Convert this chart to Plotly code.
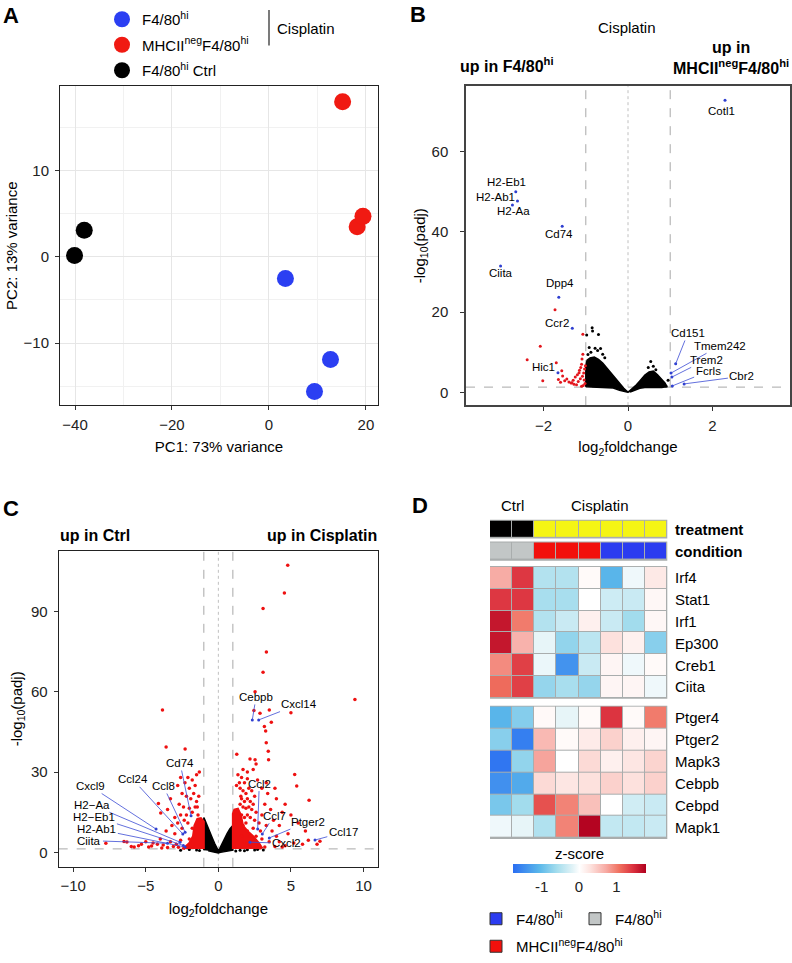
import math
import plotly.graph_objects as go

W, H = 792, 963
def px(x): return x / W
def py(y): return 1 - y / H

FONT = "Liberation Sans, Arial, Helvetica, sans-serif"

# ---------------- Panel A: PCA ----------------
pca_names = ["F4/80<sup>hi</sup>", "MHCII<sup>neg</sup>F4/80<sup>hi</sup>", "F4/80<sup>hi</sup> Ctrl"]
pca_colors = ["#2b3ff2", "#f01a12", "#000000"]
pc1_f480 = [3.4, 12.7, 9.4]
pc2_f480 = [-2.5, -11.9, -15.6]
pc1_mhc = [15.2, 18.2, 19.4]
pc2_mhc = [18.0, 3.5, 4.7]
pc1_ctrl = [-40.1, -38.1]
pc2_ctrl = [0.15, 3.1]

# ---------------- Panel B: volcano (Cisplatin MHCIIneg vs F4/80hi) ----------------
b_red_lfc = [-1.73, -1.07, -2.08, -2.39, -1.70, -2.02, -1.57, -1.07, -1.09, -1.10, -1.12, -1.15,
             -1.05, -1.20, -1.08, -1.25, -1.13, -1.30, -1.40, -1.50, -1.35, -1.45, -1.60, -1.18,
             -1.02, -1.06, -1.22, -1.55, -1.28, -1.65, -1.03, -1.16, -1.04, -1.10, -1.33, -1.01]
b_red_padj = [20.6, 14.5, 11.5, 8.1, 7.4, 2.9, 5.4, 9.5, 8.3, 7.0, 6.2, 5.5,
              4.8, 4.4, 4.0, 3.8, 3.4, 3.0, 2.6, 2.9, 2.3, 3.3, 2.5, 2.7,
              2.2, 1.7, 1.9, 4.1, 2.0, 3.2, 5.8, 4.9, 3.1, 1.5, 2.4, 6.6]
b_black_lfc = [-0.98, -0.85, -0.84, -0.70, -0.92, -0.78, -0.65, -0.88, -0.72, -0.60, -0.95, -0.55,
               0.54, 0.60, 0.95, 0.85, 0.75, 0.66, 0.48, 0.90]
b_black_padj = [14.3, 16.1, 15.3, 14.4, 11.2, 11.0, 10.9, 10.0, 10.4, 9.5, 9.4, 8.6,
                7.7, 6.5, 3.0, 2.0, 2.5, 5.6, 6.2, 1.6]
# outline of the dense non-significant cloud (left and right arms)
b_cloud_left_lfc = [-1.0, -1.0, -0.97, -0.9, -0.8, -0.7, -0.6, -0.5, -0.4, -0.3, -0.2, -0.1, 0.0,
                    -0.1, -0.2, -0.35, -0.6, -0.8, -1.0]
b_cloud_left_padj = [1.4, 6.5, 8.0, 8.6, 8.8, 8.2, 7.3, 6.0, 4.7, 3.4, 2.2, 1.0, 0.0,
                     0.2, 0.5, 1.1, 1.2, 1.3, 1.4]
b_cloud_right_lfc = [0.0, 0.1, 0.2, 0.3, 0.4, 0.5, 0.6, 0.7, 0.8, 0.88, 0.92, 0.8, 0.6, 0.4, 0.28, 0.15, 0.05]
b_cloud_right_padj = [0.0, 0.9, 1.9, 3.1, 4.3, 5.1, 5.3, 4.4, 3.3, 2.3, 1.4, 1.2, 1.2, 1.2, 1.0, 0.4, 0.05]
b_genes = ["Cotl1", "H2-Eb1", "H2-Ab1", "H2-Aa", "Cd74", "Ciita", "Dpp4", "Ccr2", "Hic1",
           "Cd151", "Tmem242", "Trem2", "Fcrls", "Cbr2"]
b_gene_lfc = [2.30, -2.66, -2.74, -2.62, -1.56, -3.02, -1.64, -1.32, -1.66,
              1.13, 1.02, 1.04, 1.05, 1.33]
b_gene_padj = [72.8, 50.0, 46.7, 47.7, 41.4, 31.5, 23.7, 16.0, 4.9,
               7.1, 4.8, 3.8, 1.6, 2.1]
# label text anchor positions (layout)
b_text_lfc = [2.22, -2.89, -3.15, -2.71, -1.64, -3.01, -1.61, -1.69, -2.01,
              1.42, 2.18, 1.85, 1.90, 2.70]
b_text_padj = [70.2, 52.3, 48.6, 45.3, 39.5, 29.7, 27.2, 17.3, 6.2,
               14.8, 11.6, 8.1, 5.2, 4.0]
b_arrow = [False] * 9 + [True] * 5

# ---------------- Panel C: volcano (Cisplatin vs Ctrl) ----------------
c_red_lfc = [4.78, 4.55, 3.08, 3.31, 3.08, 9.41, 2.53, 2.45, 2.87, 3.51, 5.00, 3.65, 3.17, 3.26,
             3.30, 3.44, 1.27, 2.18, 2.53, 3.46, 5.26, 5.40, 6.25,
             1.6, 1.8, 2.0, 1.5, 1.7, 1.9, 2.1, 2.3, 2.5, 1.6, 1.8, 2.0, 2.2, 2.4, 1.5, 1.7, 1.9,
             2.1, 2.3, 2.6, 1.6, 1.8, 2.0, 2.2, 2.5, 2.8, 3.0, 3.2, 3.4, 3.6, 3.8, 4.0, 4.2, 4.4,
             3.0, 2.7, 3.3, 3.9, 4.6, 5.0, 5.5, 6.0, 4.8, 4.0, 3.7, 3.3, 2.9, 2.4, 2.0, 2.2, 1.7,
             1.9, 2.6, 3.0, 3.5, 4.2, 5.2, 6.2, 7.0, 5.8, 4.6, 3.9, 2.8, 2.2, 1.8, 1.6, 2.4, 2.0,
             3.2, 2.4, 2.0, 2.6, 1.7, 1.35, 1.45, 1.55, 1.25, 6.8, 4.4, 2.9, 1.9,
             -3.85, -3.60, -2.29, -1.31, -1.5, -2.1, -2.6, -1.8, -2.3, -1.6, -2.0, -2.5, -1.7,
             -2.2, -1.9, -1.5, -2.7, -2.4, -2.0, -1.8, -2.6, -2.2, -3.0, -3.5, -3.97, -4.13,
             -3.2, -2.8, -2.5, -3.0, -3.6, -4.0, -4.5, -5.0, -5.5, -6.3, -6.5, -7.75, -6.0,
             -4.8, -3.8, -3.3, -2.9, -2.6, -3.5, -2.0, -1.8, -2.1, -3.1, -4.2, -5.3, -1.6,
             -2.8, -3.3, -1.4, -1.35, -1.45, -2.35, -5.8, -4.6, -3.9, -2.75]
c_red_padj = [107.3, 96.9, 91.1, 74.9, 67.3, 57.1, 60.0, 53.0, 52.0, 53.2, 52.2, 48.6, 47.0, 45.4,
              41.0, 37.8, 36.7, 34.9, 34.6, 34.6, 29.1, 24.8, 19.5,
              28.0, 26.0, 27.5, 24.0, 23.0, 22.0, 24.0, 23.0, 21.0, 20.0, 19.0, 20.0, 19.0, 18.0,
              18.0, 17.0, 16.5,
              17.0, 16.0, 15.0, 14.0, 13.0, 14.0, 13.0, 12.0, 11.0, 14.0, 18.0, 22.0, 16.0, 12.0,
              20.0, 10.0, 15.0,
              24.0, 27.0, 26.0, 24.0, 18.0, 14.0, 11.0, 8.0, 7.0, 6.0, 8.0, 10.0, 8.0, 9.0, 8.0,
              6.0, 10.0,
              11.0, 6.0, 5.0, 4.0, 4.0, 3.5, 4.5, 4.2, 3.0, 2.5, 2.2, 2.5, 3.0, 4.0, 6.0, 4.0, 2.0,
              2.0, 31.0, 30.0, 33.0, 31.0, 29.0, 26.0, 21.0, 25.0, 3.0, 2.0, 1.8, 2.6,
              53.2, 39.4, 38.6, 30.0, 29.0, 28.0, 28.0, 27.0, 26.0, 25.0, 24.0, 22.0, 22.0,
              21.0, 20.0, 19.0, 18.0, 17.0, 16.5, 15.0, 14.0, 14.0, 13.0, 16.0, 14.7, 18.3,
              10.0, 11.0, 9.0, 7.0, 8.0, 5.0, 3.5, 4.0, 2.5, 3.9, 4.1, 3.4, 2.2,
              2.0, 2.8, 4.0, 3.0, 4.5, 1.8, 5.0, 9.0, 11.0, 2.2, 3.0, 3.0, 17.0,
              25.0, 20.0, 14.0, 21.0, 17.0, 12.0, 2.0, 2.4, 1.6, 1.9]
c_black_lfc = [1.5, 2.0, 2.5, 2.7, 1.8, -1.5, -2.0, -1.3, 1.2, 3.1, -2.6]
c_black_padj = [0.8, 1.0, 0.9, 1.1, 0.6, 0.9, 1.1, 0.7, 0.5, 0.9, 0.8]
c_black_v_lfc = [-1.0, -1.0, -0.93, -0.8, -0.6, -0.4, -0.25, -0.1, 0.0, 0.1, 0.25, 0.4, 0.6, 0.8,
                 0.93, 1.0, 1.0, 0.7, 0.4, 0.15, 0.0, -0.15, -0.4, -0.7]
c_black_v_padj = [0.8, 13.0, 12.2, 10.3, 7.6, 5.2, 3.3, 1.5, 0.6, 1.5, 3.2, 5.0, 7.0, 8.8,
                  9.6, 10.0, 0.8, 0.6, 0.3, 0.0, -0.2, 0.0, 0.3, 0.6]
c_red_dense_right_lfc = [1.0, 1.0, 1.1, 1.35, 1.55, 1.7, 2.0, 2.4, 2.8, 3.0, 2.8]
c_red_dense_right_padj = [1.3, 14.5, 16.0, 16.3, 14.0, 10.0, 8.0, 6.0, 3.5, 1.8, 1.3]
c_red_dense_left_lfc = [-1.0, -1.0, -1.2, -1.45, -1.65, -1.75, -2.0, -2.3, -2.5, -2.3]
c_red_dense_left_padj = [1.3, 11.5, 12.8, 12.5, 10.0, 6.0, 3.5, 2.0, 1.4, 1.3]
c_genes = ["Cxcl9", "Ccl24", "Cd74", "Ccl8", "H2\u2212Aa", "H2\u2212Eb1", "H2-Ab1", "Ciita",
           "Cebpb", "Cxcl14", "Ccl2", "Ccl7", "Ptger2", "Ccl17", "Cxcl2"]
c_gene_lfc = [-4.29, -2.45, -1.88, -2.29, -2.64, -2.41, -2.29, -3.5,
              2.34, 2.78, 2.71, 3.03, 3.51, 6.66, 2.18]
c_gene_padj = [8.7, 6.9, 13.7, 7.5, 3.8, 2.6, 2.0, 3.4,
               49.5, 49.5, 8.7, 6.9, 5.4, 4.6, 3.8]
c_text_lfc = [-8.83, -5.9, -2.64, -3.79, -8.72, -8.54, -8.37, -8.88,
              2.6, 5.58, 2.82, 3.84, 6.2, 8.61, 4.71]
c_text_padj = [24.8, 27.3, 33.4, 24.8, 17.8, 13.4, 8.7, 4.4,
               58.1, 55.4, 25.7, 13.7, 11.5, 7.5, 3.4]

# ---------------- Panel D: heatmap ----------------
hm_genes_top = ["Irf4", "Stat1", "Irf1", "Ep300", "Creb1", "Ciita"]
hm_genes_bottom = ["Ptger4", "Ptger2", "Mapk3", "Cebpb", "Cebpd", "Mapk1"]
hm_top = [
    [0.70, 1.40, -0.50, -0.50, 0.05, -1.10, -0.10, 0.22],
    [1.40, 1.40, -0.58, -0.58, 0.00, -0.32, -0.35, 0.08],
    [1.62, 1.00, -0.50, -0.35, 0.15, -0.35, -0.62, 0.08],
    [1.62, 0.65, -0.15, -0.72, -0.45, 0.30, 0.14, -0.78],
    [0.90, 1.35, -0.12, -1.42, -0.35, 0.10, -0.10, 0.05],
    [1.10, 1.35, -0.70, -0.58, -0.70, 0.10, 0.10, -0.10],
]
hm_bottom = [
    [-1.10, -0.80, 0.06, -0.15, 0.05, 1.42, 0.05, 1.00],
    [-0.78, -1.62, 0.60, 0.05, 0.20, 0.42, 0.15, 0.10],
    [-1.70, -0.72, 0.75, 0.00, 0.35, 0.15, 0.25, 0.40],
    [-1.45, -1.20, 0.35, 0.25, 0.30, 0.42, 0.30, 0.42],
    [-0.88, -0.62, 1.25, 0.95, 0.55, 0.00, -0.30, -0.35],
    [-0.10, -0.15, -0.52, 0.95, 1.75, -0.40, -0.40, -0.35],
]
treatment = [0, 0, 1, 1, 1, 1, 1, 1]      # 0 Ctrl, 1 Cisplatin
condition = [0, 0, 1, 1, 1, 2, 2, 2]      # 0 F4/80hi ctrl, 1 MHCIIneg, 2 F4/80hi
cond_names = ["F4/80<sup>hi</sup>", "F4/80<sup>hi</sup>", "MHCII<sup>neg</sup>F4/80<sup>hi</sup>"]

fig = go.Figure()

# ---- A traces
for i, (name, col, xs, ys) in enumerate(zip(pca_names, pca_colors,
                                            [pc1_f480, pc1_mhc, pc1_ctrl], [pc2_f480, pc2_mhc, pc2_ctrl])):
    fig.add_trace(go.Scatter(x=xs, y=ys, mode="markers", name=name, legendgroup=f"g{i}",
                             marker=dict(size=17, color=col), xaxis="x", yaxis="y",
                             legend="legend", showlegend=True))

# ---- B traces
fig.add_trace(go.Scatter(x=b_cloud_left_lfc, y=b_cloud_left_padj, mode="lines", fill="toself",
                         fillcolor="black", line=dict(color="black", width=1.5),
                         xaxis="x2", yaxis="y2", showlegend=False, hoverinfo="skip"))
fig.add_trace(go.Scatter(x=b_cloud_right_lfc, y=b_cloud_right_padj, mode="lines", fill="toself",
                         fillcolor="black", line=dict(color="black", width=1.5),
                         xaxis="x2", yaxis="y2", showlegend=False, hoverinfo="skip"))
fig.add_trace(go.Scatter(x=b_black_lfc, y=b_black_padj, mode="markers",
                         marker=dict(size=3, color="black"), xaxis="x2", yaxis="y2", showlegend=False))
fig.add_trace(go.Scatter(x=b_red_lfc, y=b_red_padj, mode="markers",
                         marker=dict(size=3, color="#e3161d"), xaxis="x2", yaxis="y2", showlegend=False))
fig.add_trace(go.Scatter(x=b_gene_lfc, y=b_gene_padj, mode="markers", text=b_genes,
                         marker=dict(size=3, color="#2f3fd0"), xaxis="x2", yaxis="y2", showlegend=False))

# ---- C traces
fig.add_trace(go.Scatter(x=c_black_v_lfc, y=c_black_v_padj, mode="lines", fill="toself",
                         fillcolor="black", line=dict(color="black", width=1.5),
                         xaxis="x3", yaxis="y3", showlegend=False, hoverinfo="skip"))
fig.add_trace(go.Scatter(x=c_black_lfc, y=c_black_padj, mode="markers",
                         marker=dict(size=3, color="black"), xaxis="x3", yaxis="y3", showlegend=False))
for lx, ly in [(c_red_dense_right_lfc, c_red_dense_right_padj), (c_red_dense_left_lfc, c_red_dense_left_padj)]:
    fig.add_trace(go.Scatter(x=lx, y=ly, mode="lines", fill="toself", fillcolor="#ee1111",
                             line=dict(color="#ee1111", width=2), xaxis="x3", yaxis="y3",
                             showlegend=False, hoverinfo="skip"))
fig.add_trace(go.Scatter(x=c_red_lfc, y=c_red_padj, mode="markers",
                         marker=dict(size=3.5, color="#ee1111"), xaxis="x3", yaxis="y3", showlegend=False))
fig.add_trace(go.Scatter(x=c_gene_lfc, y=c_gene_padj, mode="markers", text=c_genes,
                         marker=dict(size=3, color="#2f3fd0"), xaxis="x3", yaxis="y3", showlegend=False))

# ---- D heatmap
Y_TREAT, DY_TREAT = 534.2, 17.0
Y_COND, DY_COND = 556.3, 17.3
Y_TOP0, DY_ROW = 583.3, 22.0
Y_BOT0, DY_ROW2 = 724.35, 22.1
cols = list(range(8))

fig.add_trace(go.Heatmap(z=[treatment], x=cols, y0=Y_TREAT, dy=DY_TREAT, zmin=0, zmax=1,
                         colorscale=[[0, "#000000"], [0.5, "#000000"], [0.5, "#f5f514"], [1, "#f5f514"]],
                         showscale=False, xgap=1, ygap=1, xaxis="x4", yaxis="y4", hoverinfo="skip"))
fig.add_trace(go.Heatmap(z=[condition], x=cols, y0=Y_COND, dy=DY_COND, zmin=0, zmax=2,
                         colorscale=[[0, "#c2c6c6"], [0.333, "#c2c6c6"], [0.333, "#f2100c"],
                                     [0.667, "#f2100c"], [0.667, "#2b3cf0"], [1, "#2b3cf0"]],
                         showscale=False, xgap=1, ygap=1, xaxis="x4", yaxis="y4", hoverinfo="skip"))
fig.add_trace(go.Heatmap(z=hm_top, x=cols, y0=Y_TOP0, dy=DY_ROW, coloraxis="coloraxis",
                         xgap=1, ygap=1, xaxis="x4", yaxis="y4"))
fig.add_trace(go.Heatmap(z=hm_bottom, x=cols, y0=Y_BOT0, dy=DY_ROW2, coloraxis="coloraxis",
                         xgap=1, ygap=1, xaxis="x4", yaxis="y4"))

# D legend entries
for name, col, lg in [(cond_names[0], "#2b3cf0", "legend2"), (cond_names[1], "#c2c6c6", "legend2"),
                      (cond_names[2], "#f2100c", "legend3")]:
    fig.add_trace(go.Scatter(x=[None], y=[None], mode="markers", name=name,
                             marker=dict(symbol="square", size=12, color=col, line=dict(color="#333", width=1)),
                             xaxis="x4", yaxis="y4", legend=lg, showlegend=True))

# ---------------- shapes ----------------
shapes = []
lfc_cut = 1.0
padj_cut = -math.log10(0.05)
for xa, ya in [("x2", "y2"), ("x3", "y3")]:
    for v in (-lfc_cut, lfc_cut):
        shapes.append(dict(type="line", xref=xa, yref=ya + " domain", x0=v, x1=v, y0=0, y1=1,
                           line=dict(color="#a8a8a8", width=1, dash="dash"), layer="below"))
    shapes.append(dict(type="line", xref=xa, yref=ya + " domain", x0=0, x1=0, y0=0, y1=1,
                       line=dict(color="#c0c0c0", width=1, dash="dot"), layer="below"))
    shapes.append(dict(type="line", xref=xa + " domain", yref=ya, x0=0, x1=1, y0=padj_cut, y1=padj_cut,
                       line=dict(color="#a8a8a8", width=1, dash="dash"), layer="below"))

# heatmap block borders (grey, behind cells)
pxu_x = 8 / 177.3
pxu_y = 1.0
for yc, dy, n in [(Y_TREAT, DY_TREAT, 1), (Y_COND, DY_COND, 1), (Y_TOP0, DY_ROW, 6), (Y_BOT0, DY_ROW2, 6)]:
    shapes.append(dict(type="rect", xref="x4", yref="y4", x0=-0.5 - pxu_x, x1=7.5 + pxu_x,
                       y0=yc - dy / 2 - pxu_y, y1=yc - dy / 2 + n * dy + pxu_y,
                       fillcolor="#a9adad", line=dict(width=0), layer="below"))

# legend bracket for Cisplatin in A
shapes.append(dict(type="line", xref="paper", yref="paper", x0=px(269), x1=px(269), y0=py(10), y1=py(46),
                   line=dict(color="#333", width=1.3)))

# ---------------- annotations ----------------
ann = []
def txt(x, y, s, size=15, xanchor="center", yanchor="middle", bold=False, align="center"):
    ann.append(dict(x=px(x), y=py(y), xref="paper", yref="paper", text=f"<b>{s}</b>" if bold else s,
                    showarrow=False, xanchor=xanchor, yanchor=yanchor, align=align,
                    font=dict(size=size, family=FONT, color="black")))

txt(1, 16, "A", 22, "left", bold=True)
txt(408, 15, "B", 22, "left", bold=True)
txt(1, 513, "C", 22, "left", bold=True)
txt(410, 510, "D", 22, "left", bold=True)
txt(275, 29, "Cisplatin", 15, "left")

txt(627, 28, "Cisplatin", 15)
txt(458, 66, "up in F4/80<sup>hi</sup>", 16, "left", bold=True)
txt(791, 80, "up in<br>MHCII<sup>neg</sup>F4/80<sup>hi</sup>", 16, "right", "bottom", bold=True)
txt(58, 541, "up in Ctrl", 16, "left", bold=True)
txt(379, 541, "up in Cisplatin", 16, "right", bold=True)

# gene labels B
for g, gx, gy, tx, ty, ar in zip(b_genes, b_gene_lfc, b_gene_padj, b_text_lfc, b_text_padj, b_arrow):
    if ar:
        ann.append(dict(x=gx, y=gy, xref="x2", yref="y2", ax=tx, ay=ty, axref="x2", ayref="y2",
                        text=g, showarrow=True, arrowhead=0, arrowwidth=0.8, arrowcolor="#3b4bd4",
                        standoff=0, font=dict(size=11.5, family=FONT, color="black")))
    else:
        ann.append(dict(x=tx, y=ty, xref="x2", yref="y2", text=g, showarrow=False,
                        font=dict(size=11.5, family=FONT, color="black")))
# gene labels C
for g, gx, gy, tx, ty in zip(c_genes, c_gene_lfc, c_gene_padj, c_text_lfc, c_text_padj):
    ann.append(dict(x=gx, y=gy, xref="x3", yref="y3", ax=tx, ay=ty, axref="x3", ayref="y3",
                    text=g, showarrow=True, arrowhead=0, arrowwidth=0.8, arrowcolor="#3b4bd4",
                    standoff=0, font=dict(size=11.5, family=FONT, color="black")))

# heatmap labels
txt(512, 510, "Ctrl", 15)
txt(600, 510, "Cisplatin", 15)
txt(673, Y_TREAT, "treatment", 15, "left", bold=True)
txt(673, Y_COND, "condition", 15, "left", bold=True)
for i, g in enumerate(hm_genes_top):
    txt(673, Y_TOP0 + i * DY_ROW, g, 15, "left")
for i, g in enumerate(hm_genes_bottom):
    txt(673, Y_BOT0 + i * DY_ROW2, g, 15, "left")
txt(579, 862, "z-score", 15)

fig.update_layout(annotations=ann, shapes=shapes)

# ---------------- axes ----------------
axfont = dict(size=15, family=FONT, color="#222")
common = dict(showline=True, mirror=True, ticks="outside", ticklen=4, tickwidth=1, tickcolor="#333",
              zeroline=False, tickfont=axfont, automargin=False,
              title_font=dict(size=15, family=FONT, color="black"))

fig.update_layout(
    xaxis=dict(domain=[px(60), px(378)], range=[-43.1, 22.5], tickvals=[-40, -20, 0, 20],
               showgrid=True, gridcolor="#e6e6e6", gridwidth=1,
               minor=dict(tickvals=[-30, -10, 10], showgrid=True, gridcolor="#f1f1f1", gridwidth=0.6),
               linecolor="#222", linewidth=1, anchor="y", ticklabelstandoff=2,
               title=dict(text="PC1: 73% variance", standoff=9), **common),
    yaxis=dict(domain=[py(409), py(87)], range=[-17.2, 19.8], tickvals=[-10, 0, 10],
               showgrid=True, gridcolor="#e6e6e6", gridwidth=1,
               minor=dict(tickvals=[-15, -5, 5, 15], showgrid=True, gridcolor="#f1f1f1", gridwidth=0.6),
               linecolor="#222", linewidth=1, anchor="x", ticklabelstandoff=3,
               title=dict(text="PC2: 13% variance", standoff=2), **common),
    xaxis2=dict(domain=[px(466), px(790)], range=[-3.84, 3.84], tickvals=[-2, 0, 2], showgrid=False,
                linecolor="#444", linewidth=1.5, anchor="y2", ticklabelstandoff=2,
                title=dict(text="log<sub>2</sub>foldchange", standoff=9), **common),
    yaxis2=dict(domain=[py(409), py(87)], range=[-3.2, 76.3], tickvals=[0, 20, 40, 60], showgrid=False,
                linecolor="#444", linewidth=1.5, anchor="x2", ticklabelstandoff=9,
                title=dict(text="-log<sub>10</sub>(padj)", standoff=2), **common),
    xaxis3=dict(domain=[px(58.7), px(378)], range=[-11, 11], tickvals=[-10, -5, 0, 5, 10], showgrid=False,
                linecolor="#222", linewidth=1.2, anchor="y3", ticklabelstandoff=1,
                title=dict(text="log<sub>2</sub>foldchange", standoff=10), **common),
    yaxis3=dict(domain=[py(875), py(556)], range=[-5.4, 112.7], tickvals=[0, 30, 60, 90], showgrid=False,
                linecolor="#222", linewidth=1.2, anchor="x3", ticklabelstandoff=3,
                title=dict(text="-log<sub>10</sub>(padj)", standoff=4), **common),
    xaxis4=dict(domain=[px(490), px(667.3)], range=[-0.5, 7.5], visible=False, anchor="y4", automargin=False),
    yaxis4=dict(domain=[py(850), py(522)], range=[850, 522], visible=False, anchor="x4", automargin=False),
)

fig.update_layout(
    coloraxis=dict(
        cmin=-1.78, cmax=1.78,
        colorscale=[[0, "#2a6ef2"], [0.2, "#5bb8ea"], [0.33, "#a4dded"], [0.45, "#e2f3f7"],
                    [0.5, "#ffffff"], [0.58, "#fde3df"], [0.7, "#f7aaa3"], [0.8, "#f0705f"],
                    [0.9, "#dc3340"], [1, "#b0001e"]],
        colorbar=dict(orientation="h", x=px(579), xanchor="center", y=py(872.5), yanchor="top",
                      len=133, lenmode="pixels", thickness=9, outlinewidth=0,
                      tickvals=[-1, 0, 1], ticktext=["-1", "0", "1"], ticks="",
                      tickfont=dict(size=15, family=FONT, color="#222"), xpad=0, ypad=0),
    ),
    legend=dict(x=px(102), y=py(3), xanchor="left", yanchor="top", bgcolor="rgba(0,0,0,0)",
                font=dict(size=15, family=FONT, color="black"), itemsizing="trace", tracegroupgap=3),
    legend2=dict(x=px(476), y=py(911), xanchor="left", yanchor="top", orientation="h",
                 entrywidth=54, entrywidthmode="pixels", bgcolor="rgba(0,0,0,0)",
                 font=dict(size=15, family=FONT, color="black")),
    legend3=dict(x=px(476), y=py(939), xanchor="left", yanchor="top", orientation="h",
                 bgcolor="rgba(0,0,0,0)", font=dict(size=15, family=FONT, color="black")),
    width=W, height=H, autosize=False,
    margin=dict(l=0, r=0, t=0, b=0),
    paper_bgcolor="white", plot_bgcolor="white",
    font=dict(family=FONT),
)

fig.write_html("out.html", config={"responsive": False, "displayModeBar": False},
               post_script="document.body.style.margin='0';document.body.style.padding='0';"
                           "document.body.style.overflow='hidden';")
